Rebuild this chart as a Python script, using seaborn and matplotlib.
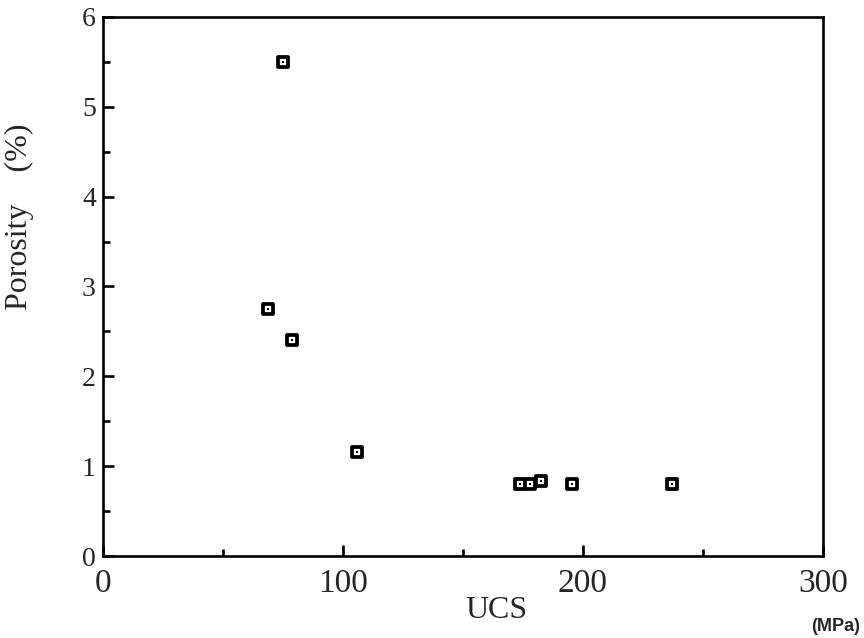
import matplotlib
matplotlib.use("Agg")
import matplotlib.pyplot as plt
import seaborn as sns
import pandas as pd
from matplotlib.ticker import MultipleLocator

# Valores
ucs = [75, 69, 79, 106, 174, 178, 182.5, 195.5, 237]
porosidade = [5.5, 2.75, 2.4, 1.16, 0.8, 0.8, 0.83, 0.8, 0.8]

x_ticks = [0, 100, 200, 300]
y_ticks = [0, 1, 2, 3, 4, 5, 6]


def configurar_estilo():
    sns.set_style("white")
    plt.rcParams["font.family"] = ["Liberation Serif", "DejaVu Serif"]


def grafico_porosidade_ucs():
    df = pd.DataFrame({"ucs": ucs, "porosidade": porosidade})

    fig = plt.figure(figsize=(8.64, 6.38), dpi=100)
    ax = fig.add_axes([0.119, 0.1285, 0.8335, 0.845])

    # Quadrado vazado com ponto central
    sns.scatterplot(data=df, x="ucs", y="porosidade", marker="s", s=55,
                    facecolor="white", edgecolor="black", linewidth=2.7, ax=ax,
                    zorder=3)
    sns.scatterplot(data=df, x="ucs", y="porosidade", marker="s", s=2.5,
                    color="black", linewidth=0, ax=ax, zorder=4)

    ax.set_xlim(0, 300)
    ax.set_ylim(0, 6)
    ax.set_xticks(x_ticks)
    ax.set_yticks(y_ticks)
    ax.xaxis.set_minor_locator(MultipleLocator(50))
    ax.yaxis.set_minor_locator(MultipleLocator(0.5))

    for spine in ax.spines.values():
        spine.set_linewidth(1.9)
        spine.set_color("black")

    ax.tick_params(axis="both", which="both", bottom=True, left=True,
                   top=False, right=False)
    ax.tick_params(axis="both", which="major", direction="in", length=8,
                   width=1.9, color="black")
    ax.tick_params(axis="both", which="minor", direction="in", length=5,
                   width=1.9, color="black")
    ax.tick_params(axis="x", which="major", labelsize=24, pad=9)
    ax.tick_params(axis="y", which="major", labelsize=20, pad=5)

    ax.set_xlabel("UCS", fontsize=23)
    ax.xaxis.set_label_coords(0.546, -0.075)
    ax.set_ylabel("Porosity    (%)", fontsize=23)
    ax.yaxis.set_label_coords(-0.095, 0.63)

    fig.text(0.967, 0.004, "(MPa)", fontsize=13, fontweight="bold",
             family=["Liberation Sans", "DejaVu Sans"], ha="center",
             va="bottom")

    fig.savefig("out.png", dpi=100)
    plt.close(fig)


if __name__ == "__main__":
    configurar_estilo()
    grafico_porosidade_ucs()
